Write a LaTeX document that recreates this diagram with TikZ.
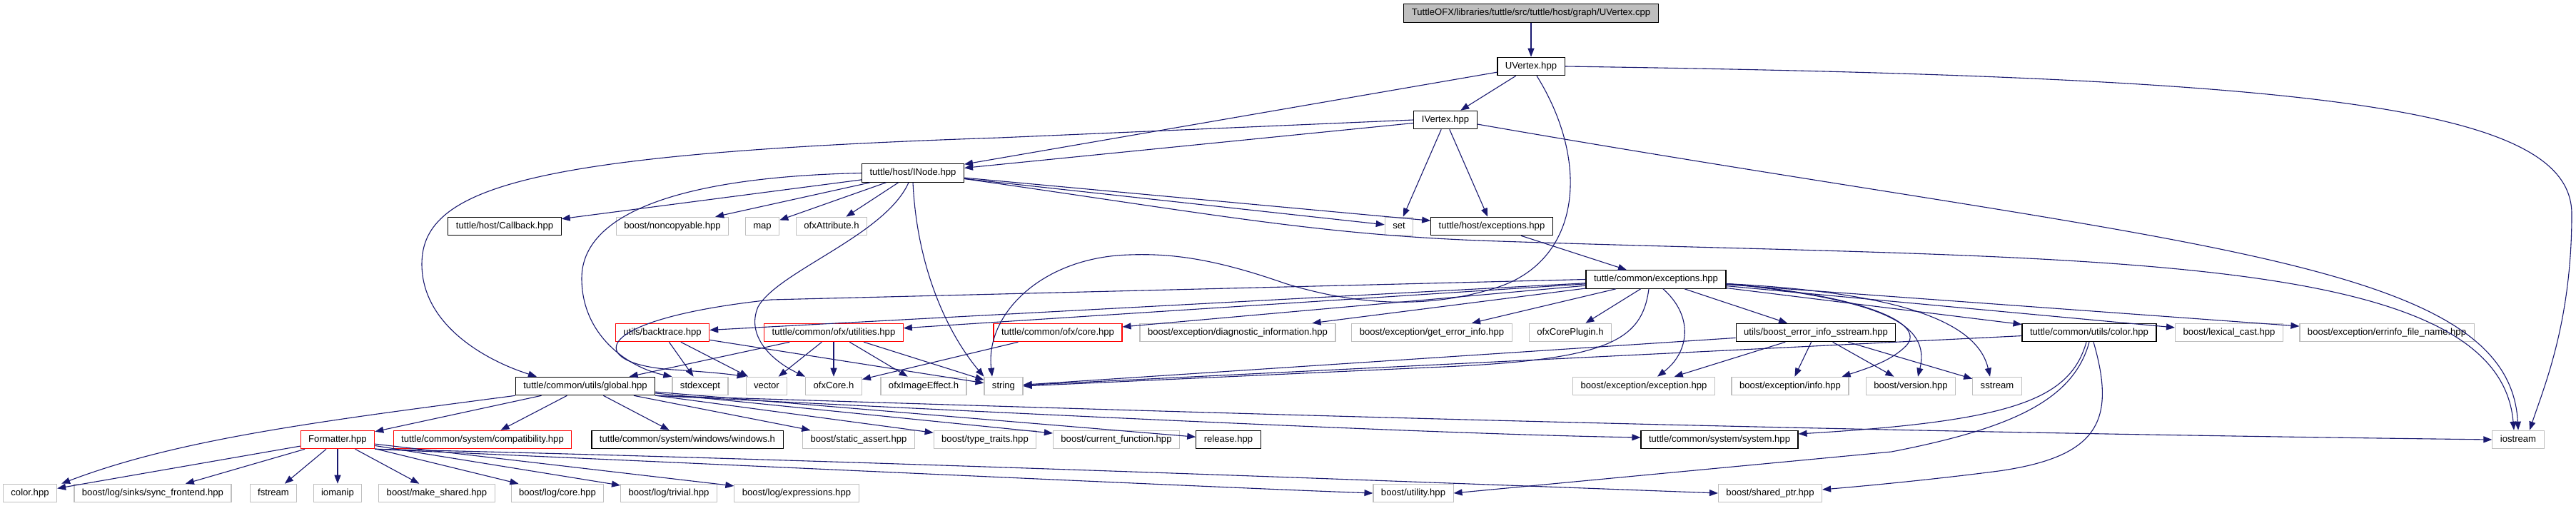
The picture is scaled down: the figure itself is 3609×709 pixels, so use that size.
\documentclass[tikz,border=0pt]{standalone}
\usepackage{fontspec}
\setmainfont{Liberation Sans}
\usepackage{tikz}
\usetikzlibrary{arrows.meta}
\definecolor{edgeblue}{HTML}{191970}
\definecolor{extgray}{HTML}{BFBFBF}
\definecolor{cutred}{HTML}{FF0000}
\tikzset{
  incbox/.style={draw, line width=1.1pt, fill=white, inner xsep=11pt, inner ysep=0pt,
    minimum height=25.5pt, text height=9.6pt, text depth=2.8pt, font=\fontsize{13.1}{15}\selectfont},
  rootbox/.style={incbox, fill=extgray},
  inc/.style={-{Triangle[length=12pt,width=9pt]}, draw=edgeblue, line width=1.1pt},
}
\newcommand{\filerow}[2]{%
  \foreach \id/\x/\col/\txt in {#2} {%
    \node[incbox, draw=\col] (\id) at (\x,#1) {\txt};
  }}
\newcommand{\incs}[1]{\foreach \a/\b in {#1} {\draw[inc] (\a) -- (\b);}}

\begin{document}
\begin{tikzpicture}[x=1pt,y=-1pt]
  \path[use as bounding box, fill=white] (0,0) rectangle (3609,709);
  \node[rootbox] (root) at (2145,18.5) {TuttleOFX/libraries/tuttle/src/tuttle/host/graph/UVertex.cpp};
  \filerow{93}{uv/2145/black/{UVertex.hpp}}
  \filerow{168}{iv/2025/black/{IVertex.hpp}}
  \filerow{242.5}{inode/1279/black/{tuttle/host/INode.hpp}}
  \filerow{317}{cb/707/black/{tuttle/host/Callback.hpp}, nc/942/extgray/{boost/noncopyable.hpp},
    map/1068/extgray/{map}, ofxattr/1165/extgray/{ofxAttribute.h}, set/1960/extgray/{set},
    hexc/2090/black/{tuttle/host/exceptions.hpp}}
  \filerow{391.5}{cexc/2320/black/{tuttle/common/exceptions.hpp}}
  \filerow{466}{bt/928/cutred/{utils/backtrace.hpp}, util/1168/cutred/{tuttle/common/ofx/utilities.hpp},
    core/1482/cutred/{tuttle/common/ofx/core.hpp},
    diag/1734/extgray/{boost/exception/diagnostic\_information.hpp},
    gei/2006/extgray/{boost/exception/get\_error\_info.hpp}, plugin/2200/extgray/{ofxCorePlugin.h},
    beis/2544/black/{utils/boost\_error\_info\_sstream.hpp}, color/2927/black/{tuttle/common/utils/color.hpp},
    lex/3123/extgray/{boost/lexical\_cast.hpp}, efn/3344/extgray/{boost/exception/errinfo\_file\_name.hpp}}
  \filerow{541}{global/820/black/{tuttle/common/utils/global.hpp}, stdexc/981/extgray/{stdexcept},
    vector/1074/extgray/{vector}, ofxcore/1168/extgray/{ofxCore.h}, ofxie/1294/extgray/{ofxImageEffect.h},
    string/1406/extgray/{string}, bexc/2303/extgray/{boost/exception/exception.hpp},
    info/2508/extgray/{boost/exception/info.hpp}, ver/2677/extgray/{boost/version.hpp},
    sstream/2798/extgray/{sstream}}
  \filerow{616}{fmt/473/cutred/{Formatter.hpp}, compat/676/cutred/{tuttle/common/system/compatibility.hpp},
    win/963/black/{tuttle/common/system/windows/windows.h}, sa/1203/extgray/{boost/static\_assert.hpp},
    tt/1380/extgray/{boost/type\_traits.hpp}, cf/1564/extgray/{boost/current\_function.hpp},
    rel/1721/black/{release.hpp}, sys/2409/black/{tuttle/common/system/system.hpp},
    iostream/3528/extgray/{iostream}}
  \filerow{691}{colorh/42/extgray/{color.hpp}, sync/214/extgray/{boost/log/sinks/sync\_frontend.hpp},
    fstream/383/extgray/{fstream}, iomanip/473/extgray/{iomanip}, mkshared/612/extgray/{boost/make\_shared.hpp},
    logcore/781/extgray/{boost/log/core.hpp}, trivial/937/extgray/{boost/log/trivial.hpp},
    expr/1116/extgray/{boost/log/expressions.hpp}, utility/1980/extgray/{boost/utility.hpp},
    sptr/2480/extgray/{boost/shared\_ptr.hpp}}

  \incs{root/uv, uv/iv, uv/inode, iv/inode, iv/set, iv/hexc,
    inode/cb, inode/nc, inode/map, inode/ofxattr, inode/set, inode/hexc, hexc/cexc,
    cexc/bt, cexc/util, cexc/core, cexc/diag, cexc/gei, cexc/plugin, cexc/beis,
    cexc/color, cexc/lex, cexc/efn, bt/stdexc, bt/vector, bt/string,
    util/global, util/vector, util/ofxcore, util/ofxie, util/string, core/ofxcore,
    beis/string, beis/bexc, beis/info, beis/ver, beis/sstream, color/string,
    global/fmt, global/compat, global/win, global/sa, global/tt, global/cf, global/rel,
    fmt/colorh, fmt/sync, fmt/fstream, fmt/iomanip, fmt/mkshared, fmt/logcore,
    fmt/trivial, fmt/expr}

  \draw[inc] (uv.east) .. controls (3250,108) and (3603,150) .. (3603,300)
    .. controls (3603,450) and (3565,540) .. ([xshift=16pt]iostream.north);
  \draw[inc] ([xshift=8pt]uv.south) .. controls (2230,230) and (2215,370) .. (2090,405)
    .. controls (1990,435) and (1890,425) .. (1800,397)
    .. controls (1700,362) and (1640,355) .. (1583,357)
    .. controls (1460,360) and (1380,440) .. ([xshift=-16pt]string.north);
  \draw[inc] (iv.west) -- (1400,193) .. controls (750,215) and (591,260) .. (591,370)
    .. controls (591,455) and (680,505) .. ([xshift=-68pt]global.north);
  \draw[inc] ([yshift=-6pt]iv.east) .. controls (3050,345) and (3515,360) .. (iostream.north);
  \draw[inc] ([yshift=-8pt]inode.east) .. controls (1700,300) and (1850,330) .. (2100,338)
    .. controls (2900,365) and (3500,345) .. ([xshift=-6pt]iostream.north);
  \draw[inc] (inode.west) .. controls (950,248) and (815,300) .. (815,390)
    .. controls (815,470) and (880,515) .. (stdexc.north west);
  \draw[inc] ([xshift=-6pt]inode.south) .. controls (1240,330) and (1090,380) .. (1062,430)
    .. controls (1045,470) and (1080,505) .. (ofxcore.north west);
  \draw[inc] (inode.south) .. controls (1285,380) and (1330,470) .. (string.north west);
  \draw[inc] (cexc.west) -- (1080,420) .. controls (820,448) and (820,510) .. (943,518)
    .. controls (990,521) and (1020,524) .. (vector.north west);
  \draw[inc] ([xshift=-10pt]cexc.south) .. controls (2300,480) and (2250,505) .. (2000,515) -- (string.east);
  \draw[inc] ([xshift=10pt]cexc.south) .. controls (2375,445) and (2365,495) .. ([xshift=19pt]bexc.north);
  \draw[inc] ([yshift=-6pt]cexc.east) .. controls (2620,415) and (2700,455) .. (2670,485)
    .. controls (2650,505) and (2620,515) .. ([xshift=-10pt]info.north east);
  \draw[inc] ([yshift=-6pt]cexc.east) .. controls (2640,420) and (2705,455) .. ([xshift=10pt]ver.north);
  \draw[inc] ([yshift=-6pt]cexc.east) .. controls (2660,410) and (2770,450) .. ([xshift=-10pt]sstream.north);
  \draw[inc] ([xshift=-4pt]color.south) .. controls (2900,560) and (2820,590) .. ([yshift=8pt]sys.east);
  \draw[inc] (color.south) .. controls (2905,560) and (2820,600) .. (2650,633) -- (utility.east);
  \draw[inc] ([xshift=6pt]color.south) .. controls (2965,590) and (2940,640) .. (2800,660)
    .. controls (2700,673) and (2600,682) .. ([yshift=5pt]sptr.east);
  \draw[inc] (global.south west) .. controls (450,590) and (250,615) .. ([xshift=6pt]colorh.north east);
  \draw[inc] (global.south east) .. controls (1400,578) and (2000,608) .. ([yshift=3pt]sys.west);
  \draw[inc] (global.south east) .. controls (1500,572) and (2400,603) .. (iostream.west);
  \draw[inc] (fmt.south east) .. controls (1000,650) and (1700,683) .. (utility.west);
  \draw[inc] (fmt.south east) .. controls (1100,642) and (1900,672) .. (sptr.west);
\end{tikzpicture}
\end{document}
